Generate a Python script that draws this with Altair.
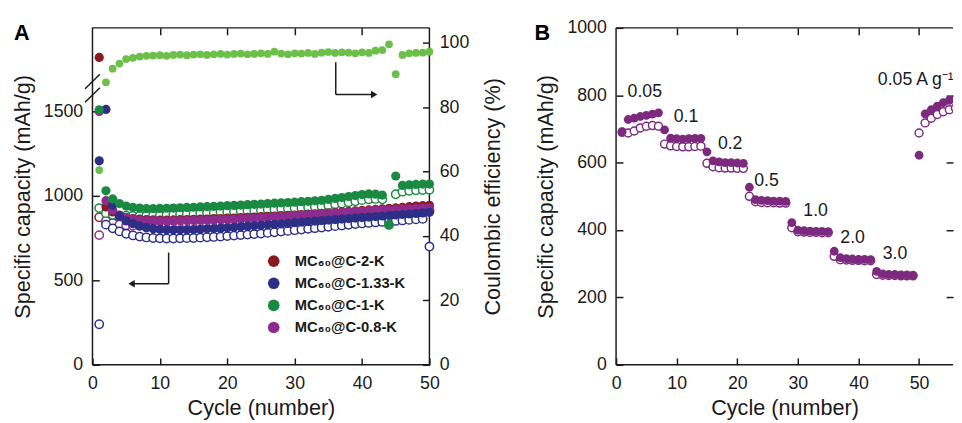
import altair as alt
import pandas as pd

INK = "#1a1a1a"
FONT = "Liberation Sans"

# ---------------- Panel A data ----------------
cycles_a = list(range(1, 51))
sample_names = ["MC₆₀@C-2-K", "MC₆₀@C-1.33-K", "MC₆₀@C-1-K", "MC₆₀@C-0.8-K"]
sample_colors = ["#8B1A1E", "#2C2F85", "#1A8A42", "#8D2C8E"]
ce_color = "#6CC04A"

red_dis = [1820, 935, 905, 885, 872, 866, 862, 860, 858, 857,
           857, 858, 859, 860, 861, 862, 863, 865, 866, 868,
           869, 871, 873, 875, 877, 879, 881, 883, 885, 887,
           889, 892, 894, 897, 899, 902, 905, 908, 911, 914,
           917, 920, 923, 926, 929, 932, 936, 940, 942, 944]
red_chg = [874, 850, 840, 834, 830, 828, 827, 826, 826, 826,
           827, 828, 829, 830, 831, 832, 834, 835, 837, 839,
           841, 843, 845, 847, 849, 851, 853, 855, 857, 859,
           861, 863, 866, 868, 871, 873, 876, 879, 882, 885,
           888, 891, 894, 897, 900, 903, 906, 909, 912, 915]
navy_dis = [1208, 1512, 946, 880, 852, 835, 822, 812, 806, 802,
            800, 799, 799, 800, 801, 803, 805, 807, 809, 811,
            814, 817, 820, 823, 826, 829, 832, 835, 838, 842,
            845, 848, 851, 854, 857, 860, 863, 866, 869, 872,
            875, 878, 881, 884, 887, 890, 893, 896, 899, 903]
navy_chg = [240, 830, 808, 790, 776, 766, 759, 754, 751, 749,
            748, 748, 749, 750, 751, 753, 755, 757, 759, 762,
            765, 768, 771, 774, 777, 781, 785, 789, 793, 797,
            801, 805, 809, 813, 817, 821, 825, 829, 833, 837,
            840, 843, 846, 849, 852, 855, 858, 861, 864, 700]
green_dis = [1510, 1030, 982, 955, 940, 932, 928, 925, 925, 926,
             927, 928, 930, 932, 933, 935, 937, 938, 940, 942,
             944, 946, 948, 950, 952, 955, 957, 959, 961, 963,
             966, 968, 971, 974, 979, 985, 990, 996, 1002, 1008,
             1012, 1010, 1005, 830, 1118, 1062, 1066, 1068, 1070, 1070]
green_chg = [928, 898, 888, 885, 883, 882, 882, 883, 884, 885,
             887, 889, 891, 893, 895, 897, 899, 901, 903, 905,
             907, 909, 911, 913, 915, 918, 920, 922, 924, 927,
             929, 932, 935, 938, 943, 950, 955, 962, 968, 975,
             980, 982, 980, 828, 1010, 1025, 1030, 1033, 1035, 1037]
purple_dis = [1500, 972, 915, 885, 870, 862, 857, 854, 852, 851,
              851, 852, 853, 854, 855, 856, 857, 858, 860, 861,
              863, 865, 867, 869, 871, 873, 876, 878, 881, 884,
              886, 889, 891, 894, 897, 899, 902, 905, 907, 910,
              912, 914, 916, 918, 920, 922, 924, 926, 928, 930]
purple_chg = [768, 852, 838, 830, 826, 824, 823, 822, 822, 822,
              823, 824, 825, 826, 827, 828, 829, 831, 832, 834,
              836, 838, 840, 842, 844, 846, 849, 851, 854, 856,
              859, 861, 864, 866, 869, 872, 874, 877, 880, 882,
              885, 888, 890, 893, 895, 898, 900, 903, 905, 908]
ce_1k = [60.5, 87.8, 92.0, 93.6, 95.0, 95.4, 95.8, 96.0, 96.1, 96.2,
         96.0, 96.3, 96.4, 96.2, 96.4, 96.5, 96.3, 96.5, 96.6, 96.4,
         96.6, 96.7, 96.5, 96.6, 96.8, 96.6, 97.3, 96.7, 96.5, 96.8,
         96.7, 96.9, 96.6, 97.0, 97.2, 96.9, 97.1, 97.0, 96.8, 97.1,
         96.9, 97.6, 97.8, 99.6, 90.3, 96.3, 96.8, 96.9, 97.0, 97.3]

# annotation arrows (data units of panel A)
cap_arrow = {"x": [11.3, 11.3], "x2": [11.3, 6.0], "y": [665, 480], "y2": [480, 480]}
cap_head = {"x": [5.8], "y": [480]}
ce_arrow = {"x": [36.1, 36.1], "x2": [36.1, 41.6], "y": [94, 84], "y2": [84, 84]}
ce_head = {"x": [41.8], "y": [84]}
axis_break = {"x": [-1.1, -1.1], "x2": [1.1, 1.1], "y": [1555, 1635], "y2": [1640, 1720]}

# ---------------- Panel B data ----------------
cycles_b = list(range(1, 57))
rate_dis = [692, 728, 732, 737, 740, 744, 748,
            697, 673, 671, 670, 671, 672, 672,
            632, 605, 602, 600, 600, 599, 598,
            527, 490, 488, 487, 486, 486, 485,
            422, 400, 398, 397, 396, 396, 395,
            337, 318, 315, 314, 313, 313, 312,
            277, 270, 268, 268, 267, 267, 266,
            622, 745, 757, 768, 778, 785, 790]
rate_chg = [690, 688, 694, 703, 708, 710, 708,
            655, 650, 648, 647, 647, 648, 649,
            598, 588, 585, 584, 584, 583, 583,
            500, 484, 482, 481, 481, 480, 480,
            407, 395, 394, 393, 393, 392, 392,
            322, 312, 311, 310, 310, 309, 309,
            268, 266, 265, 265, 264, 264, 264,
            688, 718, 732, 743, 751, 757, 762]
rate_color = "#7C2A7E"
rate_labels = ["0.05", "0.1", "0.2", "0.5", "1.0", "2.0", "3.0", "0.05 A g⁻¹"]
rate_label_x = [1.9, 9.5, 16.8, 22.8, 30.9, 37.0, 44.0, 43.2]
rate_label_y = [808, 735, 656, 545, 457, 377, 328, 845]

# ---------------- geometry ----------------
WA, WB, H = 343, 343, 343
XA = [0, 50]
XB = [0, 55.6]
CAPA = [0, 1995]
CEA = [0, 104.7]
CAPB = [0, 1000]

dummy = pd.DataFrame({"k": [0]})


def rule(**enc):
    return alt.Chart(dummy).mark_rule(color=INK, strokeWidth=1.5).encode(
        **{k: alt.value(v) for k, v in enc.items()})


def ax(**kw):
    base = dict(domain=False, grid=False, tickSize=7, offset=-7, tickWidth=1.5,
                tickColor=INK, labelFlush=False, labelPadding=10, format="d",
                labelFont=FONT, labelFontSize=18, labelColor=INK,
                titleFont=FONT, titleFontSize=22, titleFontWeight="normal",
                titleColor=INK)
    base.update(kw)
    return alt.Axis(**base)


def sx(dom):
    return alt.Scale(domain=dom, nice=False)


# ---------------- Panel A ----------------
order = [0, 3, 1, 2]
dis = [red_dis, navy_dis, green_dis, purple_dis]
chg = [red_chg, navy_chg, green_chg, purple_chg]
rows_f, rows_h = [], []
for i in order:
    for c, d, h in zip(cycles_a, dis[i], chg[i]):
        rows_f.append({"cycle": c, "cap": d, "sample": sample_names[i]})
        rows_h.append({"cycle": c, "cap": h, "hex": sample_colors[i]})
df_f = pd.DataFrame(rows_f)
df_h = pd.DataFrame(rows_h)
df_ce = pd.DataFrame({"cycle": cycles_a, "ce": ce_1k})

frameA = [rule(x=0, y=0, y2=H), rule(x=WA, y=0, y2=H),
          rule(x=0, x2=WA, y=0), rule(x=0, x2=WA, y=H)]

hollowA = alt.Chart(df_h).mark_point(
    shape="circle", fill="white", fillOpacity=1, opacity=1, strokeWidth=1.5, size=72
).encode(x=alt.X("cycle:Q", scale=sx(XA), axis=None),
         y=alt.Y("cap:Q", scale=sx(CAPA), axis=None),
         stroke=alt.Stroke("hex:N", scale=None))

filledA = alt.Chart(df_f).mark_circle(size=88, opacity=1).encode(
    x=alt.X("cycle:Q", scale=sx(XA),
            axis=ax(orient="bottom", values=[0, 10, 20, 30, 40, 50],
                    title="Cycle (number)", titlePadding=6)),
    y=alt.Y("cap:Q", scale=sx(CAPA),
            axis=ax(orient="left", values=[0, 500, 1000, 1500],
                    title="Specific capacity (mAh/g)", titlePadding=9)),
    color=alt.Color("sample:N",
                    scale=alt.Scale(domain=sample_names, range=sample_colors),
                    legend=alt.Legend(orient="none", legendX=177, legendY=230, title=None,
                                      labelFontSize=15, labelFont=FONT,
                                      labelFontWeight="bold", labelColor=INK,
                                      symbolSize=140, symbolType="circle",
                                      symbolStrokeWidth=0, symbolOpacity=1,
                                      rowPadding=6.5, labelOffset=14, padding=0)),
)


def seg(d):
    return alt.Chart(pd.DataFrame(d))


capArrow = seg(cap_arrow).mark_rule(color=INK, strokeWidth=1.5).encode(
    x=alt.X("x:Q", scale=sx(XA), axis=None), x2="x2:Q",
    y=alt.Y("y:Q", scale=sx(CAPA), axis=None), y2="y2:Q")
capHead = seg(cap_head).mark_point(shape="triangle-left", filled=True, color=INK,
                                   opacity=1, size=55).encode(
    x=alt.X("x:Q", scale=sx(XA), axis=None),
    y=alt.Y("y:Q", scale=sx(CAPA), axis=None))
breakMarks = seg(axis_break).mark_rule(color=INK, strokeWidth=1.5).encode(
    x=alt.X("x:Q", scale=sx(XA), axis=None), x2="x2:Q",
    y=alt.Y("y:Q", scale=sx(CAPA), axis=None), y2="y2:Q")
labelA = alt.Chart(pd.DataFrame({"t": ["A"]})).mark_text(
    align="left", baseline="top", fontSize=22, fontWeight="bold", font=FONT, color="black"
).encode(text="t:N", x=alt.value(-80), y=alt.value(-5))

ceDots = alt.Chart(df_ce).mark_circle(size=62, opacity=1, color=ce_color).encode(
    x=alt.X("cycle:Q", scale=sx(XA),
            axis=ax(orient="top", values=[10, 20, 30, 40], labels=False, title=None)),
    y=alt.Y("ce:Q", scale=sx(CEA),
            axis=ax(orient="right", values=[0, 20, 40, 60, 80, 100],
                    title="Coulombic efficiency (%)", titlePadding=36, titleAngle=270)))
ceArrow = seg(ce_arrow).mark_rule(color=INK, strokeWidth=1.5).encode(
    x=alt.X("x:Q", scale=sx(XA), axis=None), x2="x2:Q",
    y=alt.Y("y:Q", scale=sx(CEA), axis=None), y2="y2:Q")
ceHead = seg(ce_head).mark_point(shape="triangle-right", filled=True, color=INK,
                                 opacity=1, size=55).encode(
    x=alt.X("x:Q", scale=sx(XA), axis=None),
    y=alt.Y("y:Q", scale=sx(CEA), axis=None))

panelA = alt.layer(*frameA, hollowA, filledA, capArrow, capHead, breakMarks, labelA,
                   ceDots, ceArrow, ceHead).resolve_scale(y="independent").resolve_axis(
    x="independent", y="independent").properties(width=WA, height=H)

# ---------------- Panel B ----------------
df_b = pd.DataFrame({"cycle": cycles_b, "dis": rate_dis, "chg": rate_chg})
df_bl = pd.DataFrame({"x": rate_label_x, "y": rate_label_y, "t": rate_labels})

frameB = [rule(x=0, y=0, y2=H), rule(x=0, x2=WB, y=0), rule(x=0, x2=WB, y=H)]

hollowB = alt.Chart(df_b).mark_point(
    shape="circle", fill="white", fillOpacity=1, opacity=1, strokeWidth=1.5, size=66,
    stroke=rate_color, clip=True
).encode(
    x=alt.X("cycle:Q", scale=sx(XB),
            axis=ax(orient="top", values=[10, 20, 30, 40, 50], labels=False, title=None)),
    y=alt.Y("chg:Q", scale=sx(CAPB),
            axis=ax(orient="right", values=[200, 400, 600, 800], labels=False, title=None)))
filledB = alt.Chart(df_b).mark_circle(size=80, opacity=1, color=rate_color, clip=True).encode(
    x=alt.X("cycle:Q", scale=sx(XB),
            axis=ax(orient="bottom", values=[0, 10, 20, 30, 40, 50],
                    title="Cycle (number)", titlePadding=6)),
    y=alt.Y("dis:Q", scale=sx(CAPB),
            axis=ax(orient="left", values=[0, 200, 400, 600, 800, 1000],
                    title="Specific capacity (mAh/g)", titlePadding=10)))
textB = alt.Chart(df_bl).mark_text(align="left", baseline="middle", fontSize=18,
                                   font=FONT, color=INK, clip=True).encode(
    x=alt.X("x:Q", scale=sx(XB), axis=None),
    y=alt.Y("y:Q", scale=sx(CAPB), axis=None),
    text="t:N")
labelB = alt.Chart(pd.DataFrame({"t": ["B"]})).mark_text(
    align="left", baseline="top", fontSize=22, fontWeight="bold", font=FONT, color="black"
).encode(text="t:N", x=alt.value(-83), y=alt.value(-5))

panelB = alt.layer(*frameB, hollowB, filledB, textB, labelB).resolve_axis(
    x="independent", y="independent").properties(width=WB, height=H)

chart = alt.hconcat(panelA, panelB, spacing=30).properties(
    padding={"left": 3, "top": 7.5, "right": 0, "bottom": 0}
).configure_view(strokeWidth=0)

chart.save("out.html", embed_options={"renderer": "svg", "actions": False})
